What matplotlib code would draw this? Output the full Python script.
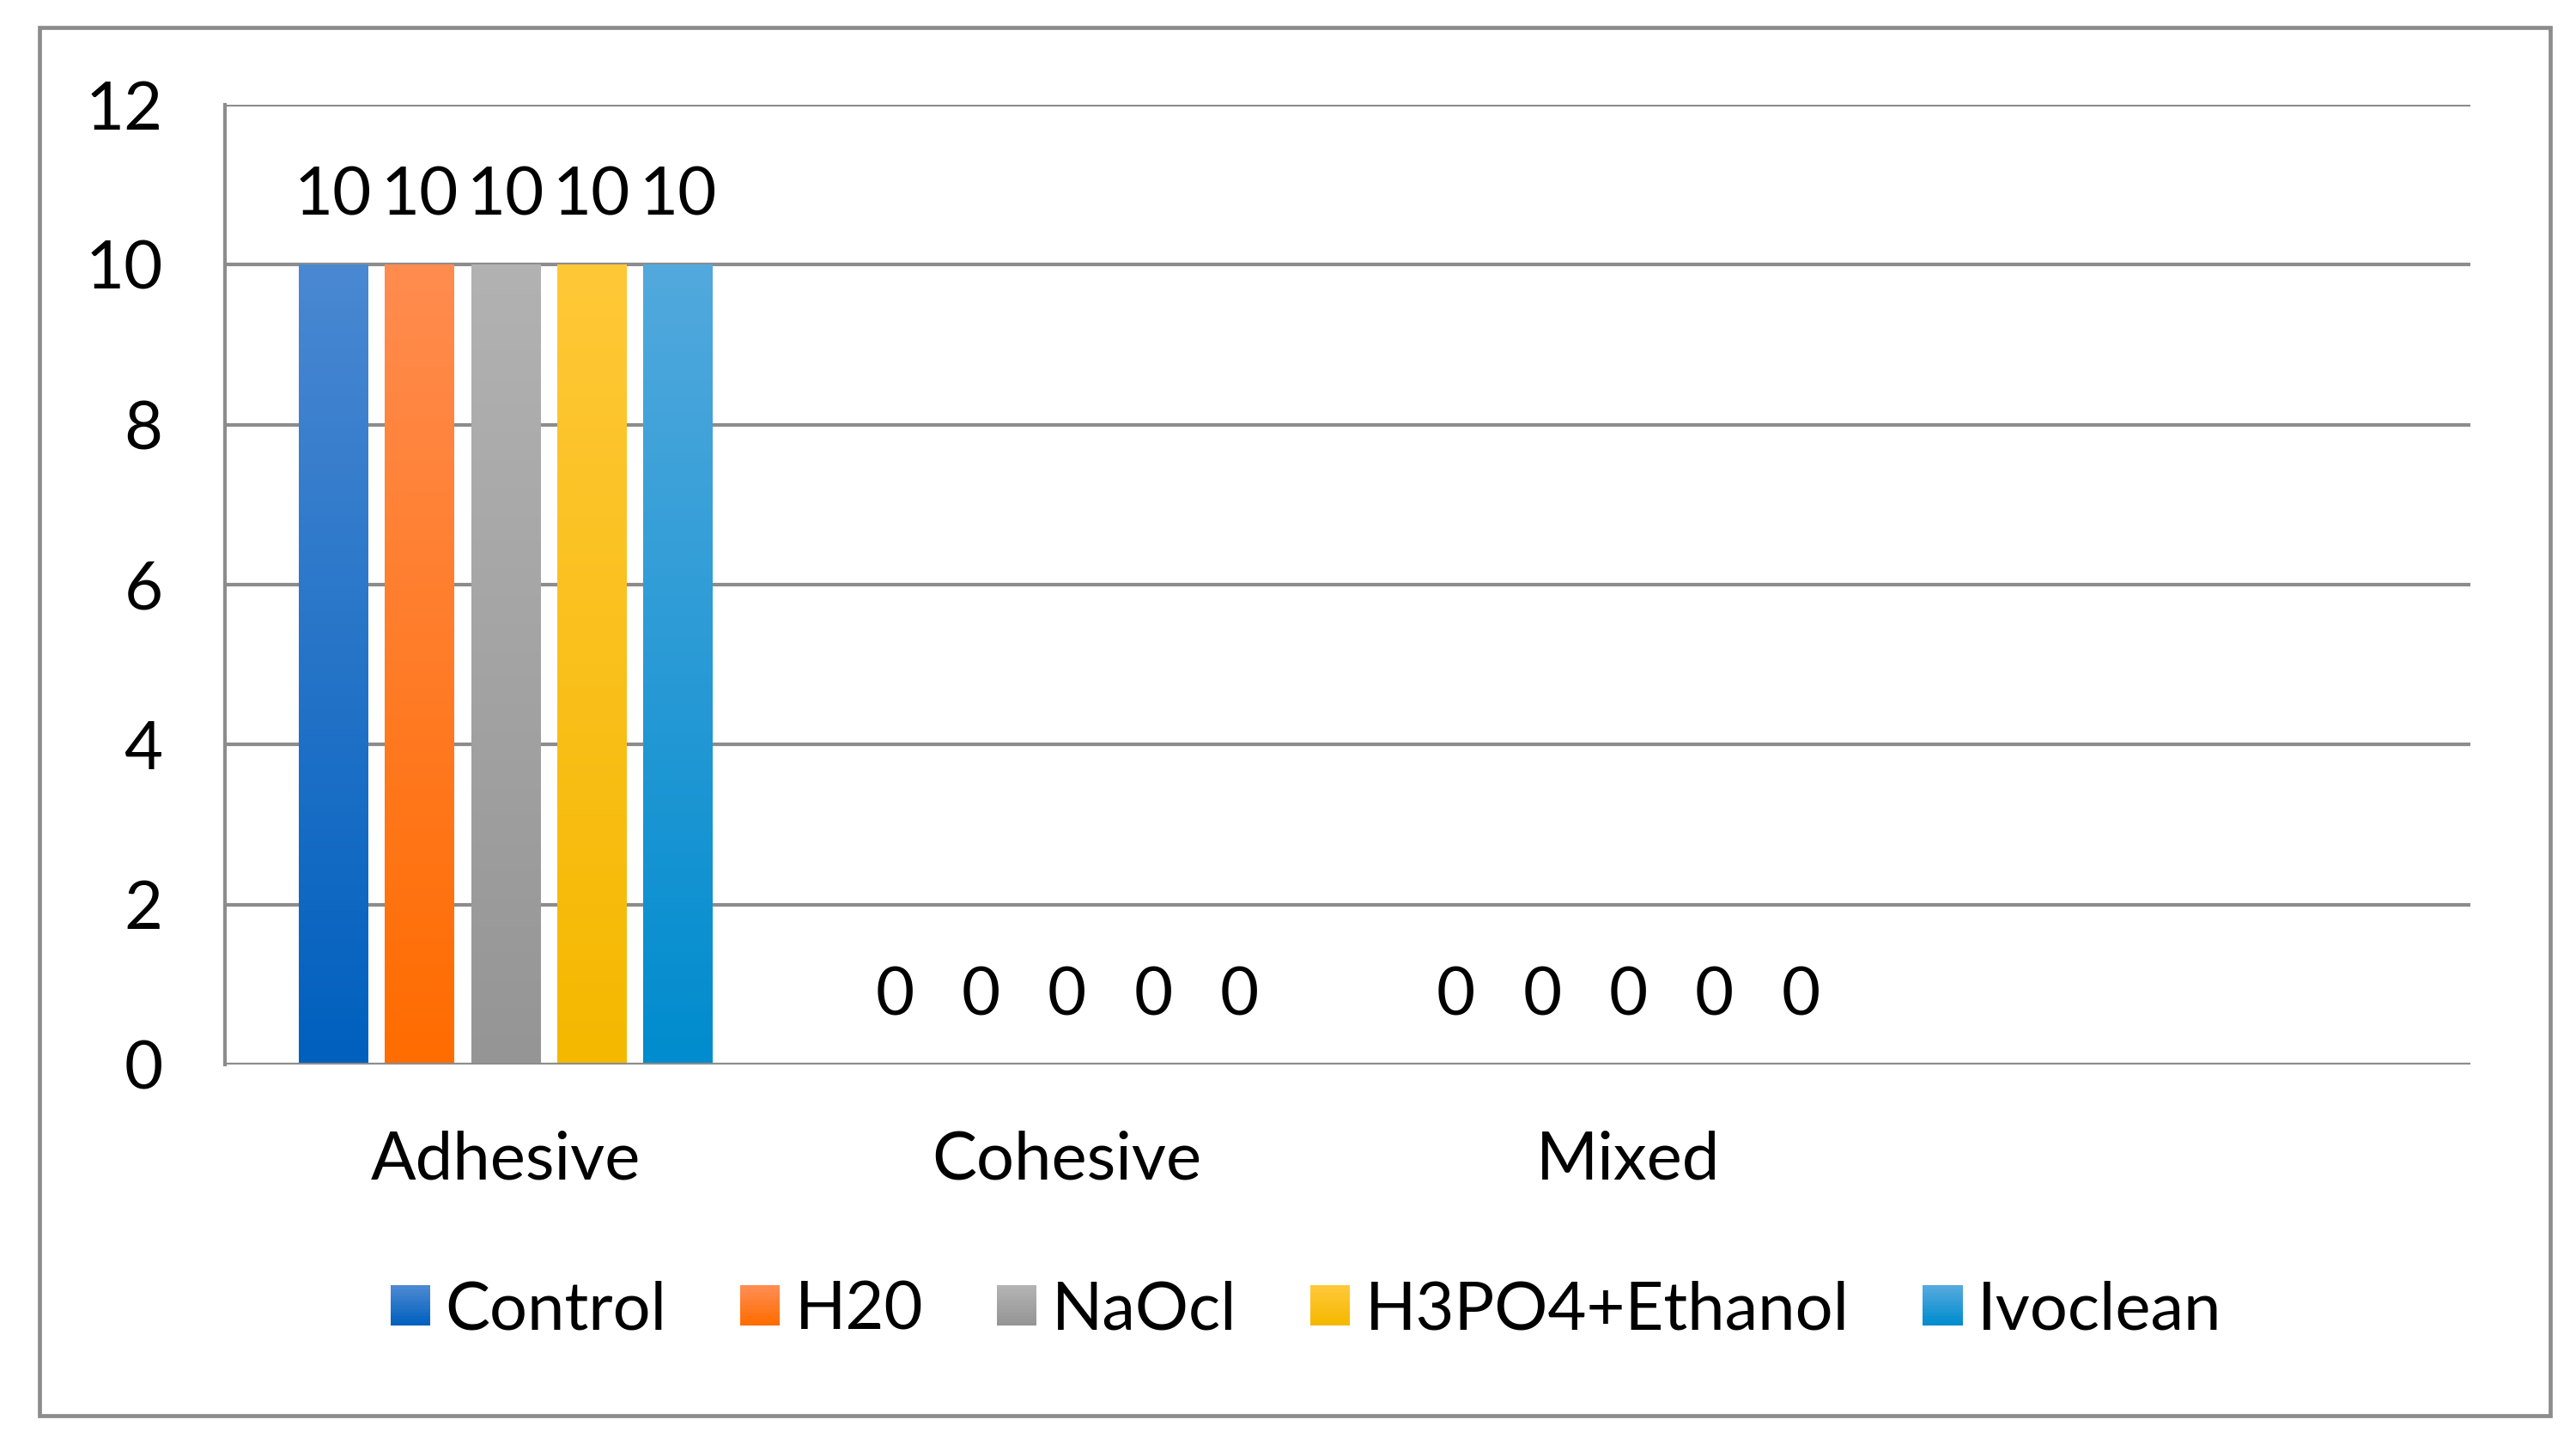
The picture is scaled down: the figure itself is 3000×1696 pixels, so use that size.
import numpy as np
import matplotlib
matplotlib.use("Agg")
import matplotlib.pyplot as plt
from matplotlib.colors import LinearSegmentedColormap
from matplotlib.patches import Rectangle
from matplotlib.legend_handler import HandlerBase

plt.rcParams['font.family'] = ['Lato', 'DejaVu Sans']

categories = ['Adhesive', 'Cohesive', 'Mixed', '']
groups = ['Control', 'H20', 'NaOcl', 'H3PO4+Ethanol', 'Ivoclean']
values = {
    'Control':       [10, 0, 0],
    'H20':           [10, 0, 0],
    'NaOcl':         [10, 0, 0],
    'H3PO4+Ethanol': [10, 0, 0],
    'Ivoclean':      [10, 0, 0],
}
# (top, bottom) gradient colours
colors = {
    'Control':       ('#4A88D2', '#0060BE'),
    'H20':           ('#FF8C4F', '#FF6C00'),
    'NaOcl':         ('#B2B2B2', '#959595'),
    'H3PO4+Ethanol': ('#FFC837', '#F5B800'),
    'Ivoclean':      ('#52A9DD', '#008CCE'),
}
yticks = [0, 2, 4, 6, 8, 10, 12]

grid_col = '#8C8C8C'
fs = 28

fig = plt.figure(figsize=(15, 8.48), dpi=200)
ax = fig.add_axes([0.0873, 0.2689, 0.959 - 0.0873, 0.928 - 0.2689])

# outer chart border
fig.patches.append(Rectangle((0.0153, 0.0277), 0.990 - 0.0153, 0.981 - 0.0277,
                             transform=fig.transFigure, fill=False,
                             edgecolor=grid_col, linewidth=1.7))

width = 0.123
step = 0.1535
x = np.arange(len(categories))


def grad_cmap(top, bottom):
    return LinearSegmentedColormap.from_list('g', [bottom, top])


grad = np.linspace(0, 1, 256).reshape(-1, 1)

for i, g in enumerate(groups):
    vals = values[g]
    xs = x[:len(vals)] + (i - 2) * step
    bars = ax.bar(xs, vals, width=width, color='none', edgecolor='none', zorder=3)
    cmap = grad_cmap(*colors[g])
    for b, v in zip(bars, vals):
        if v > 0:
            x0 = b.get_x()
            ax.imshow(grad, extent=[x0, x0 + width, 0, v], origin='lower',
                      cmap=cmap, aspect='auto', zorder=3, interpolation='bilinear')
        ax.annotate(f'{v}', (b.get_x() + width / 2, v), xytext=(0, 28.5),
                    textcoords='offset points', ha='center', va='center',
                    fontsize=fs, color='black')

ax.set_xlim(-0.5, len(categories) - 0.5)
ax.set_ylim(0, 12)
ax.set_yticks(yticks)
ax.set_xticks(x)
ax.set_xticklabels(categories)
ax.tick_params(length=0, labelsize=fs)
ax.tick_params(axis='x', pad=27.5)
ax.tick_params(axis='y', pad=26)
ax.yaxis.grid(True, color=grid_col, linewidth=1.5, zorder=0)
ax.set_axisbelow(True)
for s in ['top', 'right', 'bottom']:
    ax.spines[s].set_visible(False)
ax.spines['left'].set_color(grid_col)
ax.spines['left'].set_linewidth(1.5)
ax.axhline(0, color=grid_col, linewidth=1.5, zorder=4)


class GradHandler(HandlerBase):
    def __init__(self, top, bottom):
        super().__init__()
        self.top = top
        self.bottom = bottom

    def create_artists(self, legend, orig_handle, xdescent, ydescent,
                       width, height, fontsize, trans):
        cmap = grad_cmap(self.top, self.bottom)
        n = 12
        side = min(width, height * 0.85)
        x0 = -xdescent + (width - side) / 2
        y0 = -ydescent + (height - side) / 2
        arts = []
        for k in range(n):
            r = Rectangle((x0, y0 + side * k / n), side, side / n + 0.3,
                          facecolor=cmap(k / (n - 1)), edgecolor='none',
                          transform=trans)
            arts.append(r)
        return arts


handles = [Rectangle((0, 0), 1, 1) for g in groups]
hmap = {h: GradHandler(*colors[g]) for h, g in zip(handles, groups)}
fig.legend(handles, groups, handler_map=hmap, loc='center',
           bbox_to_anchor=(0.507, 0.0996), ncol=5, frameon=False,
           fontsize=fs, handlelength=0.6, handletextpad=0.22,
           columnspacing=1.1)

fig.savefig('out.png', dpi=200, facecolor='white')
